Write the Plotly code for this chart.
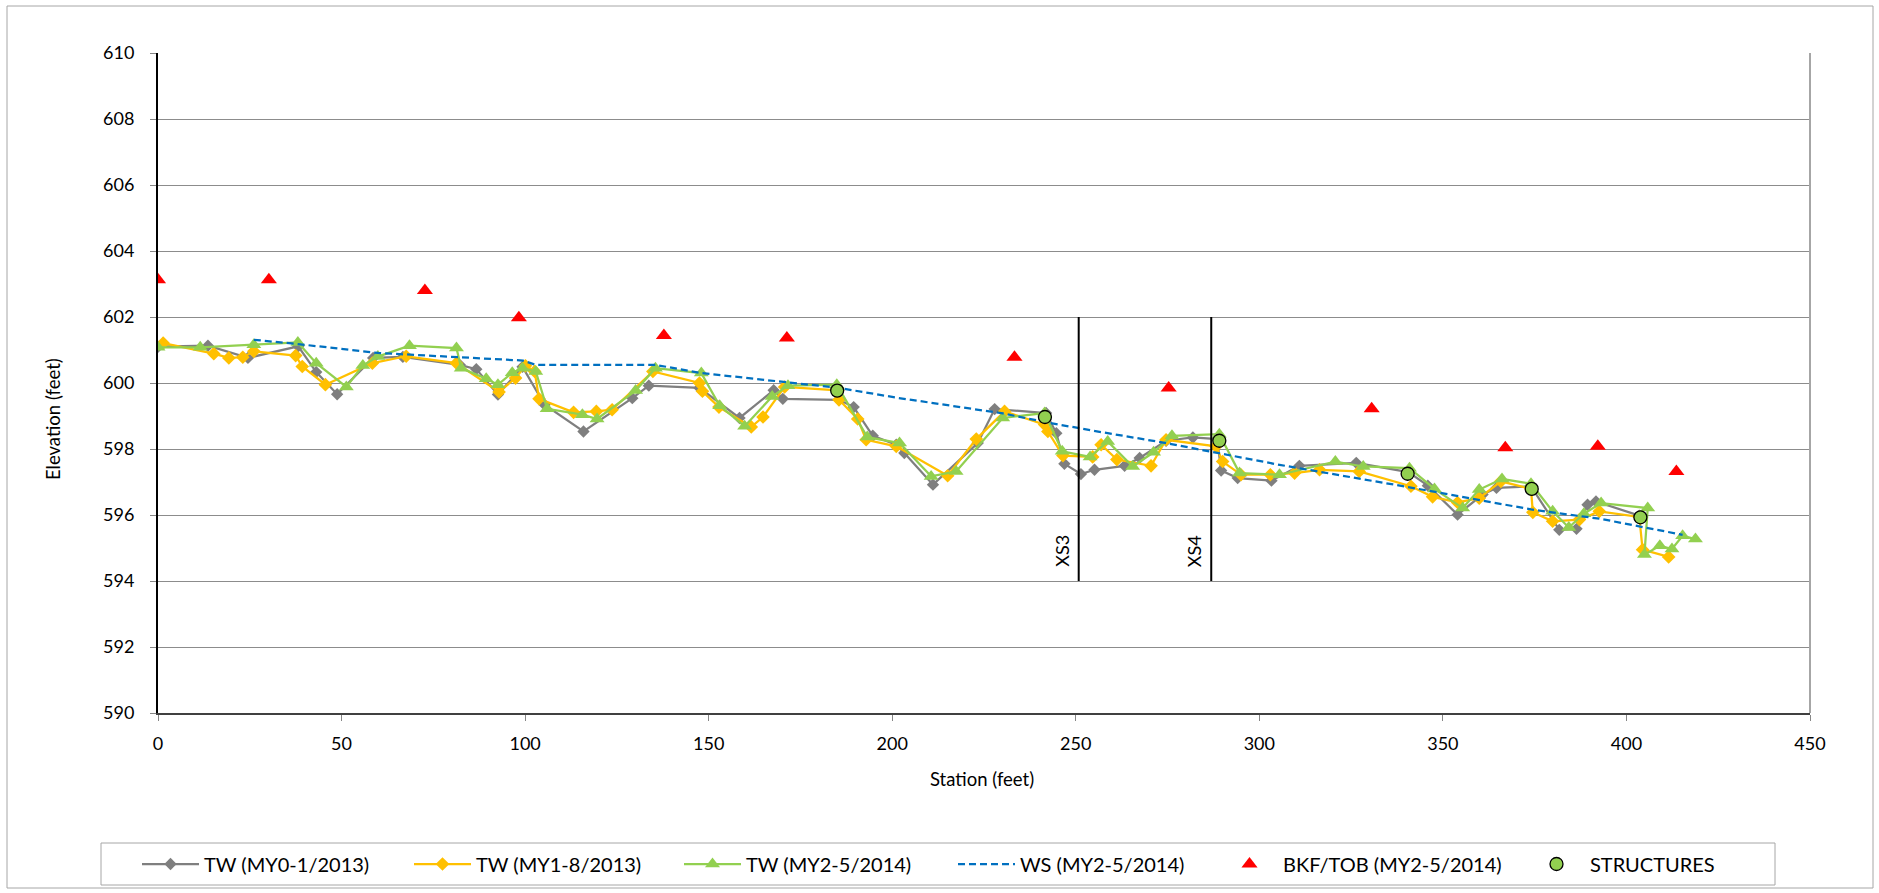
import plotly.graph_objects as go

# ---------------- data ----------------
tw_my0_station = [0, 13.6, 24.5, 38.2, 43.1, 48.8, 58.6, 66.7, 82.2, 86.7, 92.6, 99.3, 105.3, 115.9,
                  129.2, 133.7, 147.5, 158.4, 167.7, 170.2, 185.5, 189.5, 194.7, 201.1, 203.3, 211.1,
                  223.3, 227.9, 241.9, 244.7, 246.9, 251.4, 255.1, 263.3, 267.4, 274.6, 281.9, 288.5,
                  289.6, 294.1, 303.3, 310.9, 326.4, 340.6, 345.9, 354.0, 360.8, 364.6, 374.0, 381.7,
                  386.4, 389.4, 391.7, 403.5]
tw_my0_elev = [601.10, 601.13, 600.76, 601.11, 600.33, 599.66, 600.76, 600.79, 600.55, 600.42, 599.65,
               600.49, 599.34, 598.53, 599.54, 599.92, 599.85, 598.94, 599.78, 599.52, 599.49, 599.27,
               598.40, 598.13, 597.88, 596.92, 598.18, 599.21, 599.09, 598.48, 597.55, 597.24, 597.37,
               597.49, 597.73, 598.25, 598.35, 598.30, 597.35, 597.12, 597.04, 597.49, 597.58, 597.30,
               596.89, 596.01, 596.62, 596.82, 596.87, 595.55, 595.58, 596.31, 596.41, 595.98]

tw_my1_station = [1.4, 15.2, 19.3, 23.1, 26.1, 37.5, 39.3, 45.6, 58.4, 67.6, 81.3, 92.9, 97.4, 100.1,
                  102.6, 103.8, 113.2, 119.4, 123.7, 134.8, 147.5, 148.3, 152.8, 161.6, 164.8, 170.7,
                  185.2, 185.5, 190.6, 192.9, 201.1, 215.1, 222.9, 230.6, 241.5, 242.4, 246.5, 254.6,
                  256.9, 261.2, 270.5, 274.6, 288.2, 290.0, 295.0, 303.0, 309.6, 316.4, 327.2, 341.3,
                  347.2, 354.0, 359.9, 365.8, 374.0, 374.5, 379.9, 387.2, 392.6, 403.5, 404.4, 411.5]
tw_my1_elev = [601.21, 600.89, 600.76, 600.78, 600.96, 600.83, 600.50, 599.95, 600.60, 600.81, 600.60,
               599.73, 600.15, 600.52, 600.35, 599.52, 599.11, 599.14, 599.19, 600.35, 600.00, 599.75,
               599.27, 598.67, 598.97, 599.88, 599.78, 599.49, 598.91, 598.28, 598.08, 597.19, 598.30,
               599.14, 598.74, 598.53, 597.80, 597.76, 598.13, 597.68, 597.49, 598.28, 598.08, 597.62,
               597.22, 597.22, 597.27, 597.37, 597.32, 596.87, 596.55, 596.38, 596.51, 597.02, 596.79,
               596.08, 595.81, 595.86, 596.11, 595.94, 594.95, 594.73]

tw_my2_station = [0, 11.5, 26.1, 38.1, 43.1, 51.3, 55.8, 59.9, 68.5, 81.3, 82.6, 89.4, 92.6, 96.5,
                  99.3, 102.9, 106.0, 115.6, 119.6, 130.1, 135.5, 148.0, 153.0, 159.8, 167.3, 171.6,
                  184.9, 193.2, 202.0, 210.6, 217.4, 230.1, 241.5, 246.3, 253.9, 258.7, 265.5, 271.2,
                  276.2, 289.1, 294.6, 305.5, 320.7, 328.3, 340.9, 347.7, 355.4, 359.9, 366.1, 374.0,
                  379.9, 384.3, 388.4, 393.1, 405.8, 404.9, 409.1, 412.4, 415.3, 418.8]
tw_my2_elev = [601.08, 601.08, 601.16, 601.23, 600.60, 599.88, 600.53, 600.80, 601.13, 601.06, 600.45,
               600.13, 599.95, 600.31, 600.45, 600.35, 599.22, 599.04, 598.91, 599.77, 600.45, 600.30,
               599.31, 598.69, 599.59, 599.92, 599.95, 598.36, 598.18, 597.17, 597.32, 598.94, 599.09,
               597.93, 597.76, 598.23, 597.47, 597.90, 598.40, 598.45, 597.27, 597.22, 597.62, 597.47,
               597.42, 596.79, 596.21, 596.77, 597.09, 596.95, 596.11, 595.62, 596.04, 596.36, 596.21,
               594.80, 595.07, 594.97, 595.37, 595.27]

ws_station = [26.1, 38.1, 59.9, 81.3, 99.4, 102.9, 135.5, 148.0, 171.6, 184.9, 201.5, 230.1, 241.5,
              253.9, 274.6, 289.1, 305.5, 340.9, 374.0, 393.1, 415.3]
ws_elev = [601.31, 601.18, 600.91, 600.79, 600.68, 600.55, 600.55, 600.30, 600.03, 599.86, 599.55,
           599.08, 598.82, 598.57, 598.18, 597.86, 597.52, 596.84, 596.17, 595.88, 595.40]

bkf_station = [0, 30.2, 72.7, 98.3, 137.8, 171.3, 233.3, 275.3, 330.6, 367.0, 392.2, 413.6]
bkf_elev = [603.13, 603.13, 602.80, 601.98, 601.44, 601.36, 600.78, 599.85, 599.22, 598.04, 598.08, 597.32]

struct_station = [185.0, 241.6, 289.1, 340.4, 374.2, 403.8]
struct_elev = [599.77, 598.97, 598.25, 597.25, 596.79, 595.93]

xs_station = [250.8, 286.9]
xs_label = ["XS3", "XS4"]
xs_bottom = 594
xs_top = 602

x_range = [0, 450]
y_range = [590, 610]

# ---------------- layout geometry (pixels) ----------------
W, H = 1879, 893
PL, PR, PT, PB = 158, 1810, 53, 713
PW, PH = PR - PL, PB - PT


def px(xp):
    return (xp - PL) / PW


def py(yp):
    return (PB - yp) / PH


FONT = "Lato, 'Open Sans', sans-serif"

fig = go.Figure()

fig.add_trace(go.Scatter(
    x=tw_my0_station, y=tw_my0_elev, mode="lines+markers", name="TW (MY0-1/2013)",
    line=dict(color="#7f7f7f", width=2.25),
    marker=dict(symbol="diamond", size=9.5, color="#7f7f7f"),
    legendwidth=200))
fig.add_trace(go.Scatter(
    x=tw_my1_station, y=tw_my1_elev, mode="lines+markers", name="TW (MY1-8/2013)",
    line=dict(color="#ffc000", width=2.25),
    marker=dict(symbol="diamond", size=10.5, color="#ffc000"),
    legendwidth=198))
fig.add_trace(go.Scatter(
    x=tw_my2_station, y=tw_my2_elev, mode="lines+markers", name="TW (MY2-5/2014)",
    line=dict(color="#92d050", width=2.25),
    marker=dict(symbol="triangle-up", size=13, color="#92d050"),
    legendwidth=202))
fig.add_trace(go.Scatter(
    x=ws_station, y=ws_elev, mode="lines", name="WS (MY2-5/2014)",
    line=dict(color="#0070c0", width=2.25, dash="7px,4px"),
    legendwidth=191))
fig.add_trace(go.Scatter(
    x=bkf_station, y=bkf_elev, mode="markers", name="BKF/TOB (MY2-5/2014)",
    marker=dict(symbol="triangle-up", size=14, color="#ff0000"),
    legendwidth=235))
fig.add_trace(go.Scatter(
    x=struct_station, y=struct_elev, mode="markers", name="STRUCTURES",
    marker=dict(symbol="circle", size=13, color="#92d050", line=dict(color="#000000", width=1.3)),
    legendwidth=130))

shapes = []
# cross-section lines
for s in xs_station:
    shapes.append(dict(type="line", xref="x", yref="y", x0=s, x1=s, y0=xs_bottom, y1=xs_top,
                       line=dict(color="#000000", width=2)))
# right plot border
shapes.append(dict(type="line", xref="paper", yref="paper", x0=1, x1=1, y0=0, y1=1,
                   line=dict(color="#a6a6a6", width=2)))
# legend box
shapes.append(dict(type="rect", xref="paper", yref="paper", x0=px(101), x1=px(1775), y0=py(885), y1=py(843),
                   line=dict(color="#a6a6a6", width=1)))
# outer chart border
shapes.append(dict(type="rect", xref="paper", yref="paper", x0=px(7), x1=px(1873), y0=py(888), y1=py(6),
                   line=dict(color="#a6a6a6", width=1)))

annotations = []
for s, lab in zip(xs_station, xs_label):
    annotations.append(dict(x=s, y=xs_bottom, xref="x", yref="y", text=lab, showarrow=False,
                            textangle=-90, xanchor="right", yanchor="bottom", xshift=-4, yshift=12,
                            font=dict(family=FONT, size=18, color="#000000")))
annotations.append(dict(x=px(53), y=py(419), xref="paper", yref="paper", text="Elevation (feet)",
                        showarrow=False, textangle=-90, xanchor="center", yanchor="middle",
                        font=dict(family=FONT, size=18.5, color="#000000")))
annotations.append(dict(x=px(982), y=py(779), xref="paper", yref="paper", text="Station (feet)",
                        showarrow=False, xanchor="center", yanchor="middle",
                        font=dict(family=FONT, size=18.5, color="#000000")))

fig.update_layout(
    width=W, height=H, autosize=False,
    margin=dict(l=PL, r=W - PR, t=PT, b=H - PB, autoexpand=False),
    paper_bgcolor="#ffffff", plot_bgcolor="#ffffff",
    font=dict(family=FONT, size=17, color="#000000"),
    showlegend=True,
    legend=dict(orientation="h", x=px(137), xanchor="left", y=py(864), yanchor="middle",
                font=dict(family=FONT, size=20, color="#000000"),
                itemwidth=57, bgcolor="rgba(0,0,0,0)", borderwidth=0, traceorder="normal"),
    shapes=shapes,
    annotations=annotations,
)

fig.update_xaxes(range=x_range, tick0=0, dtick=50, showgrid=False, zeroline=False,
                 showline=True, linecolor="#404040", linewidth=1.5,
                 ticks="outside", ticklen=6, tickcolor="#868686", tickwidth=1,
                 ticklabelstandoff=8,
                 tickfont=dict(family=FONT, size=18, color="#000000"))
fig.update_yaxes(range=y_range, tick0=590, dtick=2, showgrid=True, gridcolor="#8c8c8c", gridwidth=1,
                 zeroline=False, showline=True, linecolor="#000000", linewidth=2,
                 ticks="outside", ticklen=6, tickcolor="#868686", tickwidth=1,
                 ticklabelstandoff=12,
                 tickfont=dict(family=FONT, size=18, color="#000000"))

fig.write_html("out.html", config={"displayModeBar": False},
               post_script="document.body.style.margin='0';document.body.style.overflow='hidden';")
